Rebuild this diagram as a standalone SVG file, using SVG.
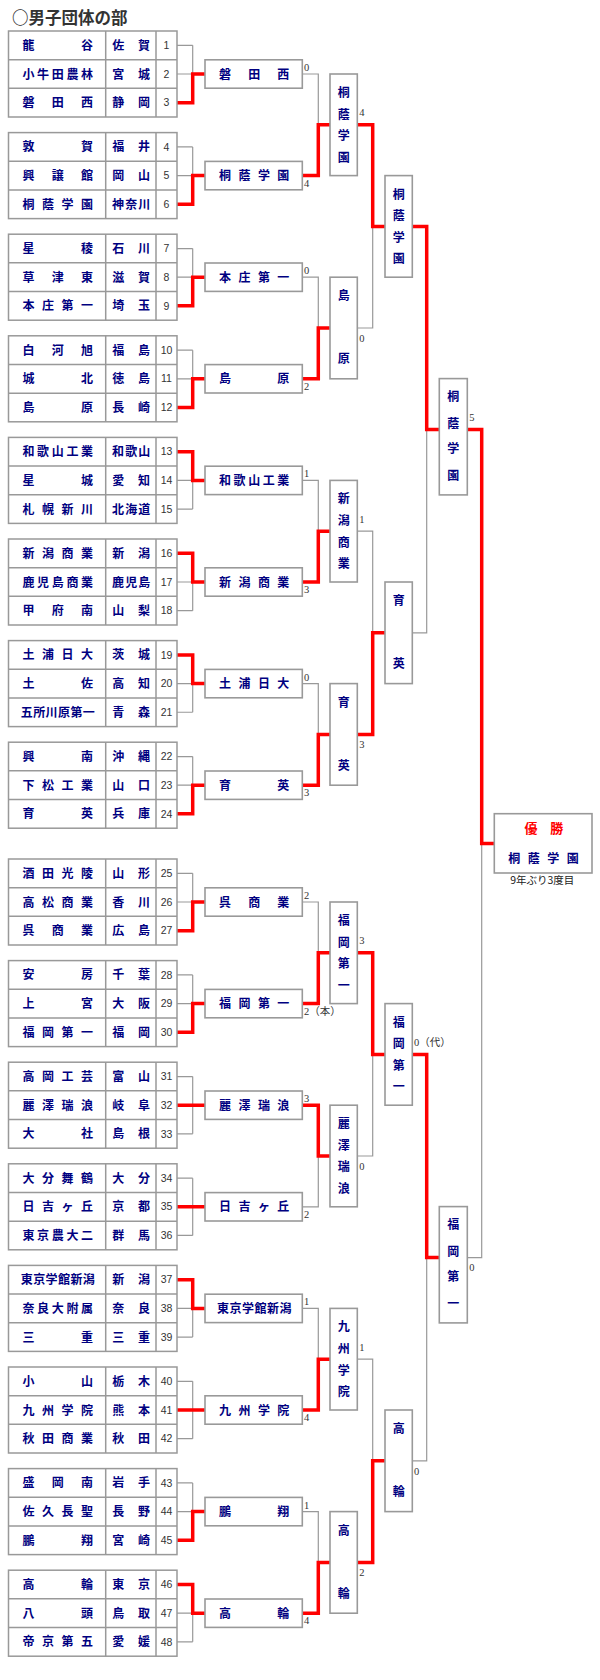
<svg xmlns="http://www.w3.org/2000/svg" xmlns:xlink="http://www.w3.org/1999/xlink" width="600" height="1680" viewBox="0 0 600 1680">
<style>
.tb{fill:#fff;stroke:#999;stroke-width:1.5}
.tl{fill:none;stroke:#999;stroke-width:1.5}
.bx{fill:#fff;stroke:#999;stroke-width:1.6}
.nm{font-family:"Noto Sans CJK JP","Noto Sans CJK SC",sans-serif;font-size:12px;font-weight:700;fill:#000080;text-anchor:middle}
.no{font-family:"Liberation Sans",Arial,sans-serif;font-size:10.5px;fill:#333;text-anchor:middle}
.sc{font-family:"Liberation Serif","Noto Sans CJK JP",serif;font-size:10.5px;fill:#333}
.gl{fill:none;stroke:#999;stroke-width:1.2}
.rl{fill:none;stroke:#f00;stroke-width:3.5}
.ttl{font-family:"Noto Sans CJK JP",sans-serif;font-size:16.5px;font-weight:700;fill:#333}
.win{font-family:"Noto Sans CJK JP",sans-serif;font-size:13px;font-weight:700;fill:#f00;text-anchor:middle}
.note{font-family:"Noto Sans CJK JP",sans-serif;font-size:10.5px;fill:#222;text-anchor:middle}
</style>
<defs>
<g id="frame">
<rect class="tb" x="8.5" y="0" width="168.5" height="86"/>
<path class="tl" d="M8.5 28.67H177M8.5 57.33H177M105.7 0V86M156 0V86"/>
</g>
</defs>
<rect width="600" height="1680" fill="#fff"/>
<text class="ttl" x="12" y="24">○男子団体の部</text>

<g id="connectors">
<path class="gl" d="M177 45.33H192.7M177 74H205M177 102.67H192.7M192.7 45.33V102.67M177 146.93H192.7M177 175.6H205M177 204.27H192.7M192.7 146.93V204.27M177 248.53H192.7M177 277.2H205M177 305.87H192.7M192.7 248.53V305.87M177 350.13H192.7M177 378.8H205M177 407.47H192.7M192.7 350.13V407.47M177 451.73H192.7M177 480.4H205M177 509.07H192.7M192.7 451.73V509.07M177 553.33H192.7M177 582H205M177 610.67H192.7M192.7 553.33V610.67M177 654.93H192.7M177 683.6H205M177 712.27H192.7M192.7 654.93V712.27M177 756.53H192.7M177 785.2H205M177 813.87H192.7M192.7 756.53V813.87M177 873.33H192.7M177 902H205M177 930.67H192.7M192.7 873.33V930.67M177 974.93H192.7M177 1003.6H205M177 1032.27H192.7M192.7 974.93V1032.27M177 1076.53H192.7M177 1105.2H205M177 1133.87H192.7M192.7 1076.53V1133.87M177 1178.13H192.7M177 1206.8H205M177 1235.47H192.7M192.7 1178.13V1235.47M177 1279.73H192.7M177 1308.4H205M177 1337.07H192.7M192.7 1279.73V1337.07M177 1381.33H192.7M177 1410H205M177 1438.67H192.7M192.7 1381.33V1438.67M177 1482.93H192.7M177 1511.6H205M177 1540.27H192.7M192.7 1482.93V1540.27M177 1584.53H192.7M177 1613.2H205M177 1641.87H192.7M192.7 1584.53V1641.87"/>
<path class="gl" d="M302.3 74H318.3V175.6H302.3M318.3 124.8H330M302.3 277.2H318.3V378.8H302.3M318.3 328H330M302.3 480.4H318.3V582H302.3M318.3 531.2H330M302.3 683.6H318.3V785.2H302.3M318.3 734.4H330M302.3 902H318.3V1003.6H302.3M318.3 952.8H330M302.3 1105.2H318.3V1206.8H302.3M318.3 1156H330M302.3 1308.4H318.3V1410H302.3M318.3 1359.2H330M302.3 1511.6H318.3V1613.2H302.3M318.3 1562.4H330"/>
<path class="gl" d="M357.3 124.8H372.7V328H357.3M372.7 226.4H385M357.3 531.2H372.7V734.4H357.3M372.7 632.8H385M357.3 952.8H372.7V1156H357.3M372.7 1054.4H385M357.3 1359.2H372.7V1562.4H357.3M372.7 1460.8H385"/>
<path class="gl" d="M412.3 226.4H426.7V632.8H412.3M426.7 429.6H439.3M412.3 1054.4H426.7V1460.8H412.3M426.7 1257.6H439.3"/>
<path class="gl" d="M467.3 429.6H481.7V1257.6H467.3M481.7 843.6H494.3"/>
<path class="rl" d="M177 102.67H192.7V74H205M177 204.27H192.7V175.6H205M177 305.87H192.7V277.2H205M177 407.47H192.7V378.8H205M177 451.73H192.7V480.4H205M177 553.33H192.7V582H205M177 654.93H192.7V683.6H205M177 813.87H192.7V785.2H205M177 930.67H192.7V902H205M177 1032.27H192.7V1003.6H205M177 1105.2H205M177 1206.8H205M177 1279.73H192.7V1308.4H205M177 1410H205M177 1540.27H192.7V1511.6H205M177 1584.53H192.7V1613.2H205"/>
<path class="rl" d="M302.3 175.6H318.3V124.8H330M302.3 378.8H318.3V328H330M302.3 582H318.3V531.2H330M302.3 785.2H318.3V734.4H330M302.3 1003.6H318.3V952.8H330M302.3 1105.2H318.3V1156H330M302.3 1410H318.3V1359.2H330M302.3 1613.2H318.3V1562.4H330"/>
<path class="rl" d="M357.3 124.8H372.7V226.4H385M357.3 734.4H372.7V632.8H385M357.3 952.8H372.7V1054.4H385M357.3 1562.4H372.7V1460.8H385"/>
<path class="rl" d="M412.3 226.4H426.7V429.6H439.3M412.3 1054.4H426.7V1257.6H439.3"/>
<path class="rl" d="M467.3 429.6H481.7V843.6H494.3"/>
</g>

<g id="scores">
<text class="sc" x="304" y="71">0</text>
<text class="sc" x="304" y="186.6">4</text>
<text class="sc" x="304" y="274.2">0</text>
<text class="sc" x="304" y="389.8">2</text>
<text class="sc" x="304" y="477.4">1</text>
<text class="sc" x="304" y="593">3</text>
<text class="sc" x="304" y="680.6">0</text>
<text class="sc" x="304" y="796.2">3</text>
<text class="sc" x="304" y="899">2</text>
<text class="sc" x="304" y="1014.6">2（本）</text>
<text class="sc" x="304" y="1102.2">3</text>
<text class="sc" x="304" y="1217.8">2</text>
<text class="sc" x="304" y="1305.4">1</text>
<text class="sc" x="304" y="1421">4</text>
<text class="sc" x="304" y="1508.6">1</text>
<text class="sc" x="304" y="1624.2">4</text>
<text class="sc" x="359.3" y="116.3">4</text>
<text class="sc" x="359.3" y="342">0</text>
<text class="sc" x="359.3" y="522.7">1</text>
<text class="sc" x="359.3" y="748.4">3</text>
<text class="sc" x="359.3" y="944.3">3</text>
<text class="sc" x="359.3" y="1170">0</text>
<text class="sc" x="359.3" y="1350.7">1</text>
<text class="sc" x="359.3" y="1576.4">2</text>
<text class="sc" x="414" y="1045.9">0（代）</text>
<text class="sc" x="414" y="1474.8">0</text>
<text class="sc" x="469.3" y="421.1">5</text>
<text class="sc" x="469.3" y="1271">0</text>
</g>

<g id="block1" transform="translate(0 31)"><use xlink:href="#frame"/>
<text class="nm" x="28.5 87" y="18.9">龍谷</text><text class="nm" x="118.3 144" y="18.9">佐賀</text><text class="no" x="166.5" y="18">1</text>
<text class="nm" x="28.5 43.1 57.8 72.4 87" y="47.6">小牛田農林</text><text class="nm" x="118.3 144" y="47.6">宮城</text><text class="no" x="166.5" y="46.7">2</text>
<text class="nm" x="28.5 57.8 87" y="76.3">磐田西</text><text class="nm" x="118.3 144" y="76.3">静岡</text><text class="no" x="166.5" y="75.4">3</text></g>
<g id="block2" transform="translate(0 132.6)"><use xlink:href="#frame"/>
<text class="nm" x="28.5 87" y="18.9">敦賀</text><text class="nm" x="118.3 144" y="18.9">福井</text><text class="no" x="166.5" y="18">4</text>
<text class="nm" x="28.5 57.8 87" y="47.6">興譲館</text><text class="nm" x="118.3 144" y="47.6">岡山</text><text class="no" x="166.5" y="46.7">5</text>
<text class="nm" x="28.5 48 67.5 87" y="76.3">桐蔭学園</text><text class="nm" x="118 131.2 144.3" y="76.3">神奈川</text><text class="no" x="166.5" y="75.4">6</text></g>
<g id="block3" transform="translate(0 234.2)"><use xlink:href="#frame"/>
<text class="nm" x="28.5 87" y="18.9">星稜</text><text class="nm" x="118.3 144" y="18.9">石川</text><text class="no" x="166.5" y="18">7</text>
<text class="nm" x="28.5 57.8 87" y="47.6">草津東</text><text class="nm" x="118.3 144" y="47.6">滋賀</text><text class="no" x="166.5" y="46.7">8</text>
<text class="nm" x="28.5 48 67.5 87" y="76.3">本庄第一</text><text class="nm" x="118.3 144" y="76.3">埼玉</text><text class="no" x="166.5" y="75.4">9</text></g>
<g id="block4" transform="translate(0 335.8)"><use xlink:href="#frame"/>
<text class="nm" x="28.5 57.8 87" y="18.9">白河旭</text><text class="nm" x="118.3 144" y="18.9">福島</text><text class="no" x="166.5" y="18">10</text>
<text class="nm" x="28.5 87" y="47.6">城北</text><text class="nm" x="118.3 144" y="47.6">徳島</text><text class="no" x="166.5" y="46.7">11</text>
<text class="nm" x="28.5 87" y="76.3">島原</text><text class="nm" x="118.3 144" y="76.3">長崎</text><text class="no" x="166.5" y="75.4">12</text></g>
<g id="block5" transform="translate(0 437.4)"><use xlink:href="#frame"/>
<text class="nm" x="28.5 43.1 57.8 72.4 87" y="18.9">和歌山工業</text><text class="nm" x="118 131.2 144.3" y="18.9">和歌山</text><text class="no" x="166.5" y="18">13</text>
<text class="nm" x="28.5 87" y="47.6">星城</text><text class="nm" x="118.3 144" y="47.6">愛知</text><text class="no" x="166.5" y="46.7">14</text>
<text class="nm" x="28.5 48 67.5 87" y="76.3">札幌新川</text><text class="nm" x="118 131.2 144.3" y="76.3">北海道</text><text class="no" x="166.5" y="75.4">15</text></g>
<g id="block6" transform="translate(0 539)"><use xlink:href="#frame"/>
<text class="nm" x="28.5 48 67.5 87" y="18.9">新潟商業</text><text class="nm" x="118.3 144" y="18.9">新潟</text><text class="no" x="166.5" y="18">16</text>
<text class="nm" x="28.5 43.1 57.8 72.4 87" y="47.6">鹿児島商業</text><text class="nm" x="118 131.2 144.3" y="47.6">鹿児島</text><text class="no" x="166.5" y="46.7">17</text>
<text class="nm" x="28.5 57.8 87" y="76.3">甲府南</text><text class="nm" x="118.3 144" y="76.3">山梨</text><text class="no" x="166.5" y="75.4">18</text></g>
<g id="block7" transform="translate(0 640.6)"><use xlink:href="#frame"/>
<text class="nm" x="28.5 48 67.5 87" y="18.9">土浦日大</text><text class="nm" x="118.3 144" y="18.9">茨城</text><text class="no" x="166.5" y="18">19</text>
<text class="nm" x="28.5 87" y="47.6">土佐</text><text class="nm" x="118.3 144" y="47.6">高知</text><text class="no" x="166.5" y="46.7">20</text>
<text class="nm" x="26.8 39.2 51.6 64 76.4 88.8" y="76.3">五所川原第一</text><text class="nm" x="118.3 144" y="76.3">青森</text><text class="no" x="166.5" y="75.4">21</text></g>
<g id="block8" transform="translate(0 742.2)"><use xlink:href="#frame"/>
<text class="nm" x="28.5 87" y="18.9">興南</text><text class="nm" x="118.3 144" y="18.9">沖縄</text><text class="no" x="166.5" y="18">22</text>
<text class="nm" x="28.5 48 67.5 87" y="47.6">下松工業</text><text class="nm" x="118.3 144" y="47.6">山口</text><text class="no" x="166.5" y="46.7">23</text>
<text class="nm" x="28.5 87" y="76.3">育英</text><text class="nm" x="118.3 144" y="76.3">兵庫</text><text class="no" x="166.5" y="75.4">24</text></g>
<g id="block9" transform="translate(0 859)"><use xlink:href="#frame"/>
<text class="nm" x="28.5 48 67.5 87" y="18.9">酒田光陵</text><text class="nm" x="118.3 144" y="18.9">山形</text><text class="no" x="166.5" y="18">25</text>
<text class="nm" x="28.5 48 67.5 87" y="47.6">高松商業</text><text class="nm" x="118.3 144" y="47.6">香川</text><text class="no" x="166.5" y="46.7">26</text>
<text class="nm" x="28.5 57.8 87" y="76.3">呉商業</text><text class="nm" x="118.3 144" y="76.3">広島</text><text class="no" x="166.5" y="75.4">27</text></g>
<g id="block10" transform="translate(0 960.6)"><use xlink:href="#frame"/>
<text class="nm" x="28.5 87" y="18.9">安房</text><text class="nm" x="118.3 144" y="18.9">千葉</text><text class="no" x="166.5" y="18">28</text>
<text class="nm" x="28.5 87" y="47.6">上宮</text><text class="nm" x="118.3 144" y="47.6">大阪</text><text class="no" x="166.5" y="46.7">29</text>
<text class="nm" x="28.5 48 67.5 87" y="76.3">福岡第一</text><text class="nm" x="118.3 144" y="76.3">福岡</text><text class="no" x="166.5" y="75.4">30</text></g>
<g id="block11" transform="translate(0 1062.2)"><use xlink:href="#frame"/>
<text class="nm" x="28.5 48 67.5 87" y="18.9">高岡工芸</text><text class="nm" x="118.3 144" y="18.9">富山</text><text class="no" x="166.5" y="18">31</text>
<text class="nm" x="28.5 48 67.5 87" y="47.6">麗澤瑞浪</text><text class="nm" x="118.3 144" y="47.6">岐阜</text><text class="no" x="166.5" y="46.7">32</text>
<text class="nm" x="28.5 87" y="76.3">大社</text><text class="nm" x="118.3 144" y="76.3">島根</text><text class="no" x="166.5" y="75.4">33</text></g>
<g id="block12" transform="translate(0 1163.8)"><use xlink:href="#frame"/>
<text class="nm" x="28.5 48 67.5 87" y="18.9">大分舞鶴</text><text class="nm" x="118.3 144" y="18.9">大分</text><text class="no" x="166.5" y="18">34</text>
<text class="nm" x="28.5 48 67.5 87" y="47.6">日吉ヶ丘</text><text class="nm" x="118.3 144" y="47.6">京都</text><text class="no" x="166.5" y="46.7">35</text>
<text class="nm" x="28.5 43.1 57.8 72.4 87" y="76.3">東京農大二</text><text class="nm" x="118.3 144" y="76.3">群馬</text><text class="no" x="166.5" y="75.4">36</text></g>
<g id="block13" transform="translate(0 1265.4)"><use xlink:href="#frame"/>
<text class="nm" x="26.8 39.2 51.6 64 76.4 88.8" y="18.9">東京学館新潟</text><text class="nm" x="118.3 144" y="18.9">新潟</text><text class="no" x="166.5" y="18">37</text>
<text class="nm" x="28.5 43.1 57.8 72.4 87" y="47.6">奈良大附属</text><text class="nm" x="118.3 144" y="47.6">奈良</text><text class="no" x="166.5" y="46.7">38</text>
<text class="nm" x="28.5 87" y="76.3">三重</text><text class="nm" x="118.3 144" y="76.3">三重</text><text class="no" x="166.5" y="75.4">39</text></g>
<g id="block14" transform="translate(0 1367)"><use xlink:href="#frame"/>
<text class="nm" x="28.5 87" y="18.9">小山</text><text class="nm" x="118.3 144" y="18.9">栃木</text><text class="no" x="166.5" y="18">40</text>
<text class="nm" x="28.5 48 67.5 87" y="47.6">九州学院</text><text class="nm" x="118.3 144" y="47.6">熊本</text><text class="no" x="166.5" y="46.7">41</text>
<text class="nm" x="28.5 48 67.5 87" y="76.3">秋田商業</text><text class="nm" x="118.3 144" y="76.3">秋田</text><text class="no" x="166.5" y="75.4">42</text></g>
<g id="block15" transform="translate(0 1468.6)"><use xlink:href="#frame"/>
<text class="nm" x="28.5 57.8 87" y="18.9">盛岡南</text><text class="nm" x="118.3 144" y="18.9">岩手</text><text class="no" x="166.5" y="18">43</text>
<text class="nm" x="28.5 48 67.5 87" y="47.6">佐久長聖</text><text class="nm" x="118.3 144" y="47.6">長野</text><text class="no" x="166.5" y="46.7">44</text>
<text class="nm" x="28.5 87" y="76.3">鵬翔</text><text class="nm" x="118.3 144" y="76.3">宮崎</text><text class="no" x="166.5" y="75.4">45</text></g>
<g id="block16" transform="translate(0 1570.2)"><use xlink:href="#frame"/>
<text class="nm" x="28.5 87" y="18.9">高輪</text><text class="nm" x="118.3 144" y="18.9">東京</text><text class="no" x="166.5" y="18">46</text>
<text class="nm" x="28.5 87" y="47.6">八頭</text><text class="nm" x="118.3 144" y="47.6">鳥取</text><text class="no" x="166.5" y="46.7">47</text>
<text class="nm" x="28.5 48 67.5 87" y="76.3">帝京第五</text><text class="nm" x="118.3 144" y="76.3">愛媛</text><text class="no" x="166.5" y="75.4">48</text></g>

<g id="r1-1"><rect class="bx" x="205" y="59.8" width="97.3" height="28.4"/><text class="nm" x="225 254.2 283.3" y="78.6">磐田西</text></g>
<g id="r1-2"><rect class="bx" x="205" y="161.4" width="97.3" height="28.4"/><text class="nm" x="225 244.4 263.9 283.3" y="180.2">桐蔭学園</text></g>
<g id="r1-3"><rect class="bx" x="205" y="263" width="97.3" height="28.4"/><text class="nm" x="225 244.4 263.9 283.3" y="281.8">本庄第一</text></g>
<g id="r1-4"><rect class="bx" x="205" y="364.6" width="97.3" height="28.4"/><text class="nm" x="225 283.3" y="383.4">島原</text></g>
<g id="r1-5"><rect class="bx" x="205" y="466.2" width="97.3" height="28.4"/><text class="nm" x="225 239.6 254.2 268.7 283.3" y="485">和歌山工業</text></g>
<g id="r1-6"><rect class="bx" x="205" y="567.8" width="97.3" height="28.4"/><text class="nm" x="225 244.4 263.9 283.3" y="586.6">新潟商業</text></g>
<g id="r1-7"><rect class="bx" x="205" y="669.4" width="97.3" height="28.4"/><text class="nm" x="225 244.4 263.9 283.3" y="688.2">土浦日大</text></g>
<g id="r1-8"><rect class="bx" x="205" y="771" width="97.3" height="28.4"/><text class="nm" x="225 283.3" y="789.8">育英</text></g>
<g id="r1-9"><rect class="bx" x="205" y="887.8" width="97.3" height="28.4"/><text class="nm" x="225 254.2 283.3" y="906.6">呉商業</text></g>
<g id="r1-10"><rect class="bx" x="205" y="989.4" width="97.3" height="28.4"/><text class="nm" x="225 244.4 263.9 283.3" y="1008.2">福岡第一</text></g>
<g id="r1-11"><rect class="bx" x="205" y="1091" width="97.3" height="28.4"/><text class="nm" x="225 244.4 263.9 283.3" y="1109.8">麗澤瑞浪</text></g>
<g id="r1-12"><rect class="bx" x="205" y="1192.6" width="97.3" height="28.4"/><text class="nm" x="225 244.4 263.9 283.3" y="1211.4">日吉ヶ丘</text></g>
<g id="r1-13"><rect class="bx" x="205" y="1294.2" width="97.3" height="28.4"/><text class="nm" x="222.9 235.4 247.9 260.4 272.9 285.4" y="1313">東京学館新潟</text></g>
<g id="r1-14"><rect class="bx" x="205" y="1395.8" width="97.3" height="28.4"/><text class="nm" x="225 244.4 263.9 283.3" y="1414.6">九州学院</text></g>
<g id="r1-15"><rect class="bx" x="205" y="1497.4" width="97.3" height="28.4"/><text class="nm" x="225 283.3" y="1516.2">鵬翔</text></g>
<g id="r1-16"><rect class="bx" x="205" y="1599" width="97.3" height="28.4"/><text class="nm" x="225 283.3" y="1617.8">高輪</text></g>

<g id="r2-1"><rect class="bx" x="330" y="74" width="27.3" height="101.6"/><text class="nm" x="343.7 343.7 343.7 343.7" y="97 118.6 140.2 161.8">桐蔭学園</text></g>
<g id="r2-2"><rect class="bx" x="330" y="277.2" width="27.3" height="101.6"/><text class="nm" x="343.7 343.7" y="300.4 363.4">島原</text></g>
<g id="r2-3"><rect class="bx" x="330" y="480.4" width="27.3" height="101.6"/><text class="nm" x="343.7 343.7 343.7 343.7" y="503.4 525 546.6 568.2">新潟商業</text></g>
<g id="r2-4"><rect class="bx" x="330" y="683.6" width="27.3" height="101.6"/><text class="nm" x="343.7 343.7" y="706.8 769.8">育英</text></g>
<g id="r2-5"><rect class="bx" x="330" y="902" width="27.3" height="101.6"/><text class="nm" x="343.7 343.7 343.7 343.7" y="925 946.6 968.2 989.8">福岡第一</text></g>
<g id="r2-6"><rect class="bx" x="330" y="1105.2" width="27.3" height="101.6"/><text class="nm" x="343.7 343.7 343.7 343.7" y="1128.2 1149.8 1171.4 1193">麗澤瑞浪</text></g>
<g id="r2-7"><rect class="bx" x="330" y="1308.4" width="27.3" height="101.6"/><text class="nm" x="343.7 343.7 343.7 343.7" y="1331.4 1353 1374.6 1396.2">九州学院</text></g>
<g id="r2-8"><rect class="bx" x="330" y="1511.6" width="27.3" height="101.6"/><text class="nm" x="343.7 343.7" y="1534.8 1597.8">高輪</text></g>

<g id="r3-1"><rect class="bx" x="385" y="175.6" width="27.3" height="101.6"/><text class="nm" x="398.7 398.7 398.7 398.7" y="198.6 220.2 241.8 263.4">桐蔭学園</text></g>
<g id="r3-2"><rect class="bx" x="385" y="582" width="27.3" height="101.6"/><text class="nm" x="398.7 398.7" y="605.2 668.2">育英</text></g>
<g id="r3-3"><rect class="bx" x="385" y="1003.6" width="27.3" height="101.6"/><text class="nm" x="398.7 398.7 398.7 398.7" y="1026.6 1048.2 1069.8 1091.4">福岡第一</text></g>
<g id="r3-4"><rect class="bx" x="385" y="1410" width="27.3" height="101.6"/><text class="nm" x="398.7 398.7" y="1433.2 1496.2">高輪</text></g>

<g id="r4-1"><rect class="bx" x="439.3" y="378.6" width="28" height="116.3"/><text class="nm" x="453.3 453.3 453.3 453.3" y="401.4 428.2 453.2 480.2">桐蔭学園</text></g>
<g id="r4-2"><rect class="bx" x="439.3" y="1206.6" width="28" height="116.3"/><text class="nm" x="453.3 453.3 453.3 453.3" y="1229.4 1256.2 1281.2 1308.2">福岡第一</text></g>

<g id="champion"><rect class="bx" x="494.3" y="813.7" width="97.7" height="59.3"/>
<text class="win" x="531 556.7" y="832.5">優勝</text>
<text class="nm" x="514.3 533.8 553.3 572.8" y="863">桐蔭学園</text>
<text class="note" x="542.3" y="884.3">9年ぶり3度目</text></g>
</svg>
